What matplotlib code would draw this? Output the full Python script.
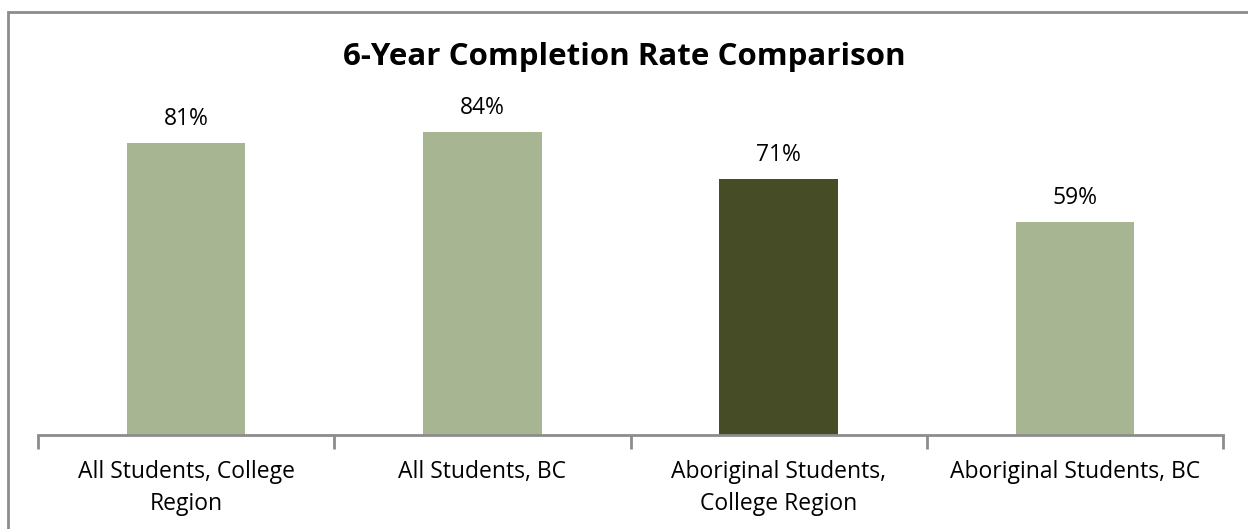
import matplotlib.pyplot as plt
from matplotlib.patches import Rectangle

categories = ["All Students, College\nRegion", "All Students, BC",
              "Aboriginal Students,\nCollege Region", "Aboriginal Students, BC"]
rates = [0.81, 0.84, 0.71, 0.59]
labels = ["81%", "84%", "71%", "59%"]
colors = ["#a7b592", "#a7b592", "#464d26", "#a7b592"]

plt.rcParams['font.family'] = ['Open Sans', 'DejaVu Sans']

fig = plt.figure(figsize=(12.48, 5.29), dpi=100)
fig.patches.append(Rectangle((8 / 1248, -0.1), 1.2, 1 - 12 / 529 + 0.1, transform=fig.transFigure,
                             fill=False, edgecolor="#8c8c8c", linewidth=2))

ax = fig.add_axes([38 / 1248, 1 - 435 / 529, (1223 - 38) / 1248, (435 - 74) / 529])
x = range(len(rates))
ax.bar(x, rates, width=0.4, color=colors)
for i, (r, t) in enumerate(zip(rates, labels)):
    ax.text(i, r + 0.032, t, ha="center", va="bottom", fontsize=16.5)

ax.set_xlim(-0.5, 3.5)
ax.set_ylim(0, 1)
ax.set_xticks([i - 0.5 for i in range(5)], minor=False)
ax.set_xticklabels([])
ax.set_xticks(list(x), minor=True)
ax.set_xticklabels(categories, minor=True, fontsize=16.5, linespacing=1.45)
ax.tick_params(axis="x", which="major", length=10, width=2, color="#8c8c8c", direction="out")
ax.tick_params(axis="x", which="minor", length=0, pad=18)
ax.set_yticks([])
for s in ["left", "right", "top"]:
    ax.spines[s].set_visible(False)
ax.spines["bottom"].set_color("#8c8c8c")
ax.spines["bottom"].set_linewidth(2)

fig.text(0.5, 1 - 57 / 529, "6-Year Completion Rate Comparison", ha="center", va="center",
         fontsize=22.5, fontweight="bold")

fig.savefig("out.png", dpi=100)
